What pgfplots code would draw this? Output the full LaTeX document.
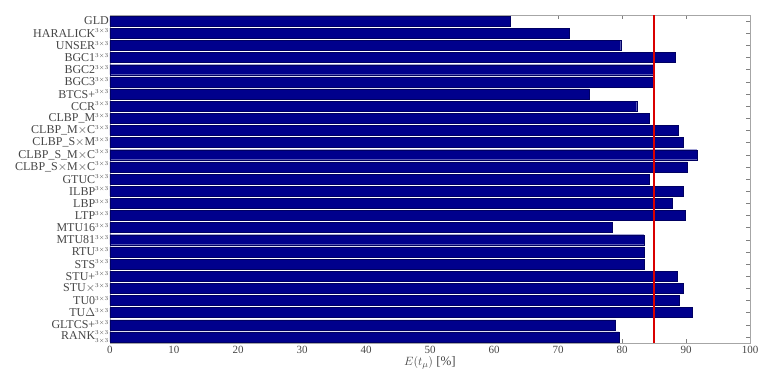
\documentclass[border=0pt]{standalone}
\usepackage{fontspec}
\setmainfont{Liberation Serif}
\usepackage{pgfplots}
\pgfplotsset{compat=1.18}
\definecolor{barblue}{RGB}{0,0,140}
\definecolor{lblgray}{RGB}{70,70,70}
\newcommand{\tx}{^{\scriptscriptstyle 3\times3}}
\begin{document}
\begin{tikzpicture}
\path[use as bounding box] (-110pt,-35pt) rectangle (650pt,343pt);
\begin{axis}[
  at={(0,0)}, anchor=south west,
  scale only axis, width=640pt, height=328pt,
  xmin=0, xmax=100, xtick={0,10,...,100},
  ymin=0.5, ymax=27.5, y dir=reverse,
  ytick={1,...,27},
  yticklabels={GLD, HARALICK$\tx$, UNSER$\tx$, BGC1$\tx$, BGC2$\tx$, BGC3$\tx$, BTCS+$\tx$, CCR$\tx$, CLBP\_M$\tx$, CLBP\_M$\times$C$\tx$, CLBP\_S$\times$M$\tx$, CLBP\_S\_M$\times$C$\tx$, CLBP\_S$\times$M$\times$C$\tx$, GTUC$\tx$, ILBP$\tx$, LBP$\tx$, LTP$\tx$, MTU16$\tx$, MTU81$\tx$, RTU$\tx$, STS$\tx$, STU+$\tx$, STU$\times\tx$, TU0$\tx$, TU$\Delta\tx$, GLTCS+$\tx$, RANK$\tx_{\scriptscriptstyle 3\times3}$},
  tick align=inside, tick pos=both,
  major tick length=4pt,
  tick style={gray, line width=0.4pt},
  axis line style={gray!70, line width=0.6pt},
  yticklabel style={font=\fontsize{12}{12}\selectfont, text=lblgray, inner sep=1pt},
  xticklabel style={font=\fontsize{11}{11}\selectfont, text=lblgray},
  /pgf/number format/assume math mode=true,
  xlabel={$E(t_\mu)$ [\%]},
  xlabel style={font=\fontsize{13}{13}\selectfont, text=lblgray, yshift=4pt},
  clip=false,
]
\addplot[xbar, bar width=10pt, fill=barblue, draw=barblue!70!black, line width=0.3pt] coordinates {
(62.6,1) (71.7,2) (79.8,3) (88.3,4) (84.9,5) (84.9,6) (74.9,7) (82.3,8) (84.3,9)
(88.8,10) (89.6,11) (91.7,12) (90.2,13) (84.2,14) (89.5,15) (87.9,16) (89.9,17)
(78.5,18) (83.4,19) (83.4,20) (83.4,21) (88.6,22) (89.6,23) (89.0,24) (90.9,25)
(79.0,26) (79.5,27)
};
\addplot[red!85!black, line width=1.6pt, mark=none] coordinates {(85,0.5) (85,27.5)};
\end{axis}
\end{tikzpicture}
\end{document}
